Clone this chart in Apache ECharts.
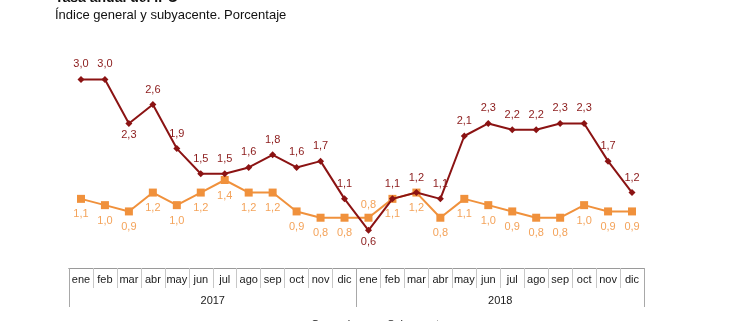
<!DOCTYPE html>
<html>
<head>
<meta charset="utf-8">
<script src="https://cdn.jsdelivr.net/npm/echarts@6/dist/echarts.min.js"></script>
<style>
  html, body { margin: 0; padding: 0; background: #ffffff; }
  #chart { width: 736px; height: 321px; }
</style>
</head>
<body>
<div id="chart"></div>
<script>
// Meses y años del eje de categorías
const months = ['ene','feb','mar','abr','may','jun','jul','ago','sep','oct','nov','dic',
                'ene','feb','mar','abr','may','jun','jul','ago','sep','oct','nov','dic'];
const years = ['2017', '2018'];

// Tasa anual del IPC: índice general y subyacente (%)
const general = [3.0, 3.0, 2.3, 2.6, 1.9, 1.5, 1.5, 1.6, 1.8, 1.6, 1.7, 1.1,
                 0.6, 1.1, 1.2, 1.1, 2.1, 2.3, 2.2, 2.2, 2.3, 2.3, 1.7, 1.2];
const subyacente = [1.1, 1.0, 0.9, 1.2, 1.0, 1.2, 1.4, 1.2, 1.2, 0.9, 0.8, 0.8,
                    0.8, 1.1, 1.2, 0.8, 1.1, 1.0, 0.9, 0.8, 0.8, 1.0, 0.9, 0.9];

// Puntos cuya etiqueta va en el lado contrario al habitual
const generalBelow = [2, 12];
const subyacenteAbove = [12];

const FONT = 'Liberation Sans, Arial, sans-serif';
const RED = '#8b1313';
const ORANGE = '#f0913c';

const fmt = v => v.toFixed(1).replace('.', ',');

const generalData = general.map((v, i) => ({
  value: v,
  label: generalBelow.includes(i) ? { position: 'bottom', distance: 3 } : undefined
}));
const subyacenteData = subyacente.map((v, i) => ({
  value: v,
  label: subyacenteAbove.includes(i) ? { position: 'top', distance: 3 } : undefined
}));

const chart = echarts.init(document.getElementById('chart'), null, { renderer: 'canvas' });

chart.setOption({
  animation: false,
  backgroundColor: '#ffffff',
  textStyle: { fontFamily: FONT },
  graphic: [
    {
      type: 'text', left: 55, top: -9,
      style: { text: 'Tasa anual del IPC', font: 'bold 14px ' + FONT, fill: '#111' }
    },
    {
      type: 'text', left: 55, top: 9,
      style: { text: 'Índice general y subyacente. Porcentaje', font: '13px ' + FONT, fill: '#111' }
    }
  ],
  grid: { left: 69, right: 92, top: 48, bottom: 53 },
  legend: {
    data: ['General', 'Subyacente'],
    left: 280, top: 314,
    itemWidth: 20, itemHeight: 8, itemGap: 11,
    textStyle: { fontSize: 11, color: '#222', fontFamily: FONT }
  },
  xAxis: [
    {
      type: 'category',
      data: months,
      boundaryGap: true,
      axisLine: { show: true, lineStyle: { color: '#9a9a9a', width: 1 } },
      axisTick: { show: true, interval: 0, length: 20, lineStyle: { color: '#c8c8c8' } },
      axisLabel: { interval: 0, margin: 6, fontSize: 11, color: '#1a1a1a', fontFamily: FONT },
      splitLine: { show: false }
    },
    {
      type: 'category',
      data: years,
      position: 'bottom',
      boundaryGap: true,
      axisLine: { show: true, lineStyle: { color: '#9a9a9a', width: 1 } },
      axisTick: { show: true, interval: 0, length: 39, lineStyle: { color: '#a8a8a8' } },
      axisLabel: { interval: 0, margin: 27, fontSize: 11, color: '#1a1a1a', fontFamily: FONT },
      splitLine: { show: false }
    }
  ],
  yAxis: {
    type: 'value', min: 0, max: 3.5, show: false,
    splitLine: { show: false }
  },
  series: [
    {
      name: 'General',
      type: 'line',
      xAxisIndex: 0,
      data: generalData,
      symbol: 'diamond',
      symbolSize: 7,
      lineStyle: { color: RED, width: 2 },
      itemStyle: { color: RED },
      label: {
        show: true, position: 'top', distance: 6,
        fontSize: 11, color: '#8b1a1a', fontFamily: FONT,
        formatter: p => fmt(p.value)
      },
      z: 3
    },
    {
      name: 'Subyacente',
      type: 'line',
      xAxisIndex: 0,
      data: subyacenteData,
      symbol: 'rect',
      symbolSize: 8,
      lineStyle: { color: ORANGE, width: 2 },
      itemStyle: { color: ORANGE },
      label: {
        show: true, position: 'bottom', distance: 6,
        fontSize: 11, color: '#f4a35a', fontFamily: FONT,
        formatter: p => fmt(p.value)
      },
      z: 2
    }
  ]
});
</script>
</body>
</html>
